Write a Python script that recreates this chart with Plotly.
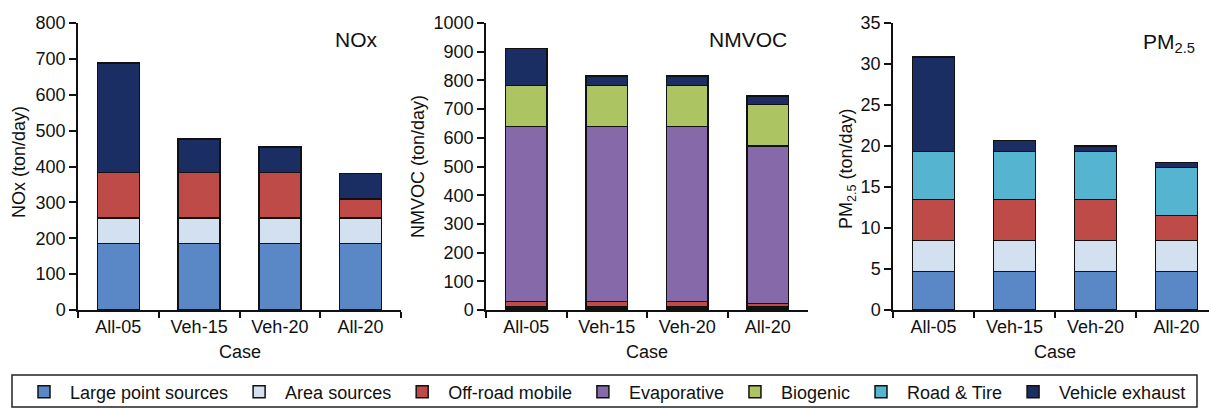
import plotly.graph_objects as go

# Emission scenarios shown on every panel
cases = ["All-05", "Veh-15", "Veh-20", "All-20"]

# Source categories and their fill colours (legend order)
sources = ["Large point sources", "Area sources", "Off-road mobile",
           "Evaporative", "Biogenic", "Road & Tire", "Vehicle exhaust"]
colors = ["#5A87C5", "#D3E0F0", "#BE4B48", "#8569A8", "#ACC562", "#55B4CF", "#1B2E63"]

# NOx emissions (ton/day)
nox_large_point = [186, 186, 186, 186]
nox_area = [70, 70, 70, 70]
nox_offroad = [127, 127, 127, 54]
nox_evaporative = [None, None, None, None]
nox_biogenic = [None, None, None, None]
nox_road_tire = [None, None, None, None]
nox_vehicle = [306, 93, 72, 70]

# NMVOC emissions (ton/day)
voc_large_point = [6, 6, 6, 6]
voc_area = [5, 5, 5, 5]
voc_offroad = [18, 18, 18, 12]
voc_evaporative = [611, 611, 611, 549]
voc_biogenic = [143, 143, 143, 144]
voc_road_tire = [None, None, None, None]
voc_vehicle = [129, 32, 32, 29]

# PM2.5 emissions (ton/day)
pm_large_point = [4.7, 4.7, 4.7, 4.7]
pm_area = [3.8, 3.8, 3.8, 3.8]
pm_offroad = [5.0, 5.0, 5.0, 3.0]
pm_evaporative = [None, None, None, None]
pm_biogenic = [None, None, None, None]
pm_road_tire = [5.8, 5.8, 5.8, 5.85]
pm_vehicle = [11.55, 1.35, 0.7, 0.65]

panels = [
    [nox_large_point, nox_area, nox_offroad, nox_evaporative,
     nox_biogenic, nox_road_tire, nox_vehicle],
    [voc_large_point, voc_area, voc_offroad, voc_evaporative,
     voc_biogenic, voc_road_tire, voc_vehicle],
    [pm_large_point, pm_area, pm_offroad, pm_evaporative,
     pm_biogenic, pm_road_tire, pm_vehicle],
]

FONT = "Liberation Sans, Arial, sans-serif"
INK = "#111111"
W, H = 1209, 408

def px_x(v):
    return v / W

def px_y(v):
    return 1 - v / H

fig = go.Figure()

# panel in which each source's legend entry is taken (first panel with data)
legend_panel = []
for k in range(len(sources)):
    for p, series in enumerate(panels):
        if any(v is not None for v in series[k]):
            legend_panel.append(p)
            break

for p, series in enumerate(panels):
    ax = "" if p == 0 else str(p + 1)
    for k, name in enumerate(sources):
        fig.add_trace(go.Bar(
            x=cases, y=series[k], name=name,
            xaxis="x" + ax, yaxis="y" + ax,
            width=0.52,
            marker=dict(color=colors[k], line=dict(color="#111111", width=1.5)),
            legendgroup=name, legendrank=k + 1,
            showlegend=(legend_panel[k] == p),
        ))

ydom = [px_y(310), px_y(23)]
xdoms = [[px_x(78), px_x(401)], [px_x(486), px_x(808)], [px_x(893), 1.0]]
xranges = [[-0.5, 3.5], [-0.5, 3.5], [-0.5, 3.4]]
yranges = [[0, 800], [0, 1000], [0, 35]]
ydticks = [100, 100, 5]

axis_common = dict(
    showline=True, linecolor=INK, linewidth=1.5,
    ticks="outside", tickcolor=INK, tickwidth=1.5,
    showgrid=False, zeroline=False,
    tickfont=dict(family=FONT, size=18, color=INK),
)

layout = {}
for p in range(3):
    ax = "" if p == 0 else str(p + 1)
    layout["xaxis" + ax] = dict(
        axis_common, domain=xdoms[p], range=xranges[p], type="category",
        tickson="boundaries", ticklen=6, anchor="y" + ax,
    )
    layout["yaxis" + ax] = dict(
        axis_common, domain=ydom, range=yranges[p], dtick=ydticks[p],
        ticklen=7, anchor="x" + ax,
    )

annotations = []
# panel titles
for text, xr, yc in [("NOx", 380, 40), ("NMVOC", 789, 40),
                     ("PM<sub>2.5</sub>", 1197, 43)]:
    annotations.append(dict(
        text=text, x=px_x(xr), y=px_y(yc), xref="paper", yref="paper",
        xanchor="right", yanchor="middle", showarrow=False,
        font=dict(family=FONT, size=21, color=INK),
    ))
# y-axis titles
for text, xc, yc in [("NOx (ton/day)", 19, 162), ("NMVOC (ton/day)", 418, 167),
                     ("PM<sub>2.5</sub> (ton/day)", 847, 168)]:
    annotations.append(dict(
        text=text, x=px_x(xc), y=px_y(yc), xref="paper", yref="paper",
        xanchor="center", yanchor="middle", textangle=-90, showarrow=False,
        font=dict(family=FONT, size=18, color=INK),
    ))
# x-axis titles
for dom in xdoms[:2] + [[px_x(893), px_x(1217)]]:
    annotations.append(dict(
        text="Case", x=(dom[0] + dom[1]) / 2, y=px_y(352),
        xref="paper", yref="paper", xanchor="center", yanchor="middle",
        showarrow=False, font=dict(family=FONT, size=18, color=INK),
    ))

fig.update_layout(
    **layout,
    barmode="stack",
    width=W, height=H,
    margin=dict(l=0, r=0, t=0, b=0, autoexpand=False),
    paper_bgcolor="white", plot_bgcolor="white",
    annotations=annotations,
    shapes=[dict(type="rect", xref="paper", yref="paper",
                 x0=px_x(12), x1=px_x(1197), y0=px_y(407), y1=px_y(375),
                 line=dict(color="#222222", width=1.5))],
    legend=dict(
        orientation="h", x=0.5, xanchor="center", y=px_y(392), yanchor="middle",
        bgcolor="rgba(0,0,0,0)", traceorder="normal", itemwidth=42,
        font=dict(family=FONT, size=18, color=INK),
    ),
)

fig.write_html("out.html")
